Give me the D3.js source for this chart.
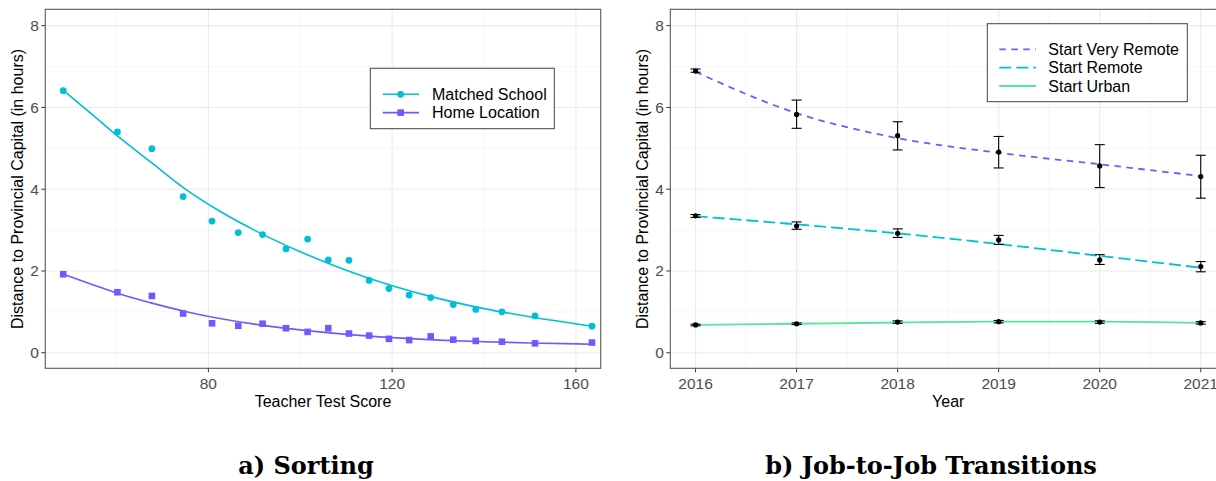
<!DOCTYPE html>
<html>
<head>
<meta charset="utf-8">
<script src="https://cdn.jsdelivr.net/npm/d3@7"></script>
<style>
  body { margin: 0; background: #fff; }
  svg { display: block; font-family: "Liberation Sans", Arial, sans-serif; }
  .grid-major { stroke: #ebebeb; stroke-width: 1.1; }
  .grid-minor { stroke: #f4f4f4; stroke-width: 0.7; }
  .tick-label { fill: #4d4d4d; font-size: 15.5px; }
  .axis-title { fill: #000; font-size: 16px; }
  .legend-text { fill: #000; font-size: 16px; }
  .caption { font-family: "DejaVu Serif", serif; font-weight: bold; font-size: 24px; fill: #000; }
</style>
</head>
<body>
<div id="chart"></div>
<script>
// ---- panel a) sorting ----
var scores = [48.4, 60.2, 67.7, 74.5, 80.8, 86.5, 91.8, 96.9, 101.6, 106.1, 110.6, 115.0, 119.3, 123.7, 128.4, 133.3, 138.2, 143.9, 151.1, 163.5];
var matchedSchool = [6.41, 5.40, 4.99, 3.82, 3.22, 2.94, 2.89, 2.54, 2.78, 2.27, 2.26, 1.77, 1.57, 1.41, 1.35, 1.18, 1.06, 1.00, 0.90, 0.65];
var homeLocation = [1.92, 1.48, 1.39, 0.96, 0.72, 0.66, 0.71, 0.60, 0.51, 0.60, 0.47, 0.42, 0.34, 0.31, 0.40, 0.32, 0.29, 0.27, 0.23, 0.25];
// smoothed fits
var fitScores = [48.4, 55, 60, 67.5, 75, 82.5, 90, 100, 110, 120, 130, 140, 150, 163.5];
var matchedFit = [6.42, 5.80, 5.32, 4.66, 4.00, 3.46, 3.00, 2.47, 2.02, 1.64, 1.33, 1.08, 0.88, 0.65];
var homeFit = [1.92, 1.66, 1.46, 1.22, 1.01, 0.84, 0.70, 0.56, 0.45, 0.37, 0.31, 0.27, 0.24, 0.21];
var scoreTicks = [80, 120, 160];
var scoreMinor = [60, 100, 140];

// ---- panel b) job-to-job ----
var years = [2016, 2017, 2018, 2019, 2020, 2021];
var veryRemoteMean = [6.89, 5.83, 5.31, 4.91, 4.57, 4.31];
var veryRemoteLo = [6.86, 5.49, 4.96, 4.52, 4.04, 3.78];
var veryRemoteHi = [6.94, 6.18, 5.65, 5.29, 5.09, 4.83];
var veryRemoteFit = [6.87, 5.86, 5.25, 4.89, 4.61, 4.32];
var remoteMean = [3.35, 3.10, 2.92, 2.76, 2.27, 2.11];
var remoteLo = [3.31, 3.02, 2.82, 2.65, 2.16, 1.98];
var remoteHi = [3.38, 3.20, 3.03, 2.87, 2.40, 2.23];
var remoteFit = [3.34, 3.14, 2.92, 2.66, 2.37, 2.08];
var urbanMean = [0.68, 0.71, 0.75, 0.76, 0.75, 0.73];
var urbanLo = [0.66, 0.69, 0.72, 0.73, 0.72, 0.70];
var urbanHi = [0.70, 0.73, 0.78, 0.79, 0.78, 0.76];
var urbanFit = [0.68, 0.71, 0.74, 0.76, 0.76, 0.73];
var yearMinor = [2016.5, 2017.5, 2018.5, 2019.5, 2020.5, 2021.5];

var yTicks = [0, 2, 4, 6, 8];
var yMinor = [1, 3, 5, 7];

var cyan = "#00bfd6", purple = "#6c5cff", green = "#55e69a";

var svg = d3.select("#chart").append("svg")
    .attr("width", 1216)
    .attr("height", 481);

var plotTop = 9.3, plotBottom = 368.3;

var y = d3.scaleLinear().domain([-0.38, 8.4]).range([plotBottom, plotTop]);

// draws the grid, frame, ticks for one panel
function drawFrame(g, x, majorX, minorX, left, right, tickFmt) {
    g.selectAll(".ymin").data(yMinor).enter().append("line")
        .attr("class", "grid-minor")
        .attr("x1", left).attr("x2", right)
        .attr("y1", function(d){ return y(d); }).attr("y2", function(d){ return y(d); });
    g.selectAll(".xmin").data(minorX).enter().append("line")
        .attr("class", "grid-minor")
        .attr("x1", function(d){ return x(d); }).attr("x2", function(d){ return x(d); })
        .attr("y1", plotTop).attr("y2", plotBottom);
    g.selectAll(".ymaj").data(yTicks).enter().append("line")
        .attr("class", "grid-major")
        .attr("x1", left).attr("x2", right)
        .attr("y1", function(d){ return y(d); }).attr("y2", function(d){ return y(d); });
    g.selectAll(".xmaj").data(majorX).enter().append("line")
        .attr("class", "grid-major")
        .attr("x1", function(d){ return x(d); }).attr("x2", function(d){ return x(d); })
        .attr("y1", plotTop).attr("y2", plotBottom);

    // y ticks
    g.selectAll(".ytick").data(yTicks).enter().append("line")
        .attr("x1", left - 4).attr("x2", left)
        .attr("y1", function(d){ return y(d); }).attr("y2", function(d){ return y(d); })
        .attr("stroke", "#333");
    g.selectAll(".ylab").data(yTicks).enter().append("text")
        .attr("class", "tick-label")
        .attr("x", left - 6.5)
        .attr("y", function(d){ return y(d) + 5.5; })
        .attr("text-anchor", "end")
        .text(function(d){ return d; });

    // x ticks
    g.selectAll(".xtick").data(majorX).enter().append("line")
        .attr("x1", function(d){ return x(d); }).attr("x2", function(d){ return x(d); })
        .attr("y1", plotBottom).attr("y2", plotBottom + 4)
        .attr("stroke", "#333");
    g.selectAll(".xlab").data(majorX).enter().append("text")
        .attr("class", "tick-label")
        .attr("x", function(d){ return x(d); })
        .attr("y", 388.5)
        .attr("text-anchor", "middle")
        .text(tickFmt);
}

function drawBorder(g, left, right) {
    g.append("rect")
        .attr("x", left).attr("y", plotTop)
        .attr("width", right - left).attr("height", plotBottom - plotTop)
        .attr("fill", "none")
        .attr("stroke", "#5a5a5a")
        .attr("stroke-width", 1.1);
}

// ================= panel a =================
var xa = d3.scaleLinear().domain([44.5, 165.4]).range([45.3, 600.7]);
var ga = svg.append("g");
drawFrame(ga, xa, scoreTicks, scoreMinor, 45.3, 600.7, function(d){ return d; });

var fitLineA = d3.line()
    .x(function(d){ return xa(d[0]); })
    .y(function(d){ return y(d[1]); })
    .curve(d3.curveMonotoneX);

ga.selectAll(".dotM").data(d3.zip(scores, matchedSchool)).enter().append("circle")
    .attr("cx", function(d){ return xa(d[0]); })
    .attr("cy", function(d){ return y(d[1]); })
    .attr("r", 3.4)
    .attr("fill", cyan);

ga.selectAll(".sqH").data(d3.zip(scores, homeLocation)).enter().append("rect")
    .attr("x", function(d){ return xa(d[0]) - 3.3; })
    .attr("y", function(d){ return y(d[1]) - 3.3; })
    .attr("width", 6.6).attr("height", 6.6)
    .attr("fill", purple);

ga.append("path")
    .datum(d3.zip(fitScores, matchedFit))
    .attr("d", fitLineA)
    .attr("fill", "none").attr("stroke", cyan).attr("stroke-width", 1.6);

ga.append("path")
    .datum(d3.zip(fitScores, homeFit))
    .attr("d", fitLineA)
    .attr("fill", "none").attr("stroke", purple).attr("stroke-width", 1.6);

drawBorder(ga, 45.3, 600.7);

// legend a
var lga = ga.append("g").attr("transform", "translate(370.3,68.3)");
lga.append("rect").attr("width", 184).attr("height", 60.4)
    .attr("fill", "#fff").attr("stroke", "#444").attr("stroke-width", 1);
var legA = [{name: "Matched School", color: cyan, shape: "circle"},
            {name: "Home Location", color: purple, shape: "square"}];
legA.forEach(function(d, i){
    var yy = 26 + i * 18.3;
    lga.append("line").attr("x1", 12.4).attr("x2", 48.7)
        .attr("y1", yy).attr("y2", yy)
        .attr("stroke", d.color).attr("stroke-width", 1.6);
    if (d.shape == "circle") {
        lga.append("circle").attr("cx", 30.4).attr("cy", yy).attr("r", 3.4).attr("fill", d.color);
    } else {
        lga.append("rect").attr("x", 27.1).attr("y", yy - 3.3).attr("width", 6.6).attr("height", 6.6).attr("fill", d.color);
    }
    lga.append("text").attr("class", "legend-text")
        .attr("x", 61.7).attr("y", yy + 5.6).text(d.name);
});

ga.append("text").attr("class", "axis-title")
    .attr("x", 323).attr("y", 407)
    .attr("text-anchor", "middle")
    .text("Teacher Test Score");
ga.append("text").attr("class", "axis-title")
    .attr("transform", "translate(23,189) rotate(-90)")
    .attr("text-anchor", "middle")
    .text("Distance to Provincial Capital (in hours)");

// ================= panel b =================
var xb = d3.scaleLinear().domain([2015.75, 2021.25]).range([670.3, 1226]);
var gb = svg.append("g");
drawFrame(gb, xb, years, yearMinor, 670.3, 1226, function(d){ return d; });

var series = [
    {name: "Start Very Remote", color: purple, dash: "6.5,5.5", fit: veryRemoteFit, mean: veryRemoteMean, lo: veryRemoteLo, hi: veryRemoteHi},
    {name: "Start Remote", color: cyan, dash: "12,5", fit: remoteFit, mean: remoteMean, lo: remoteLo, hi: remoteHi},
    {name: "Start Urban", color: green, dash: null, fit: urbanFit, mean: urbanMean, lo: urbanLo, hi: urbanHi}
];

var fitLineB = d3.line()
    .x(function(d){ return xb(d[0]); })
    .y(function(d){ return y(d[1]); })
    .curve(d3.curveMonotoneX);

series.forEach(function(s){
    gb.append("path")
        .datum(d3.zip(years, s.fit))
        .attr("d", fitLineB)
        .attr("fill", "none")
        .attr("stroke", s.color)
        .attr("stroke-width", 1.8)
        .attr("stroke-dasharray", s.dash);
});

series.forEach(function(s){
    var rows = years.map(function(yr, i){ return {year: yr, mean: s.mean[i], lo: s.lo[i], hi: s.hi[i]}; });
    var eb = gb.append("g").attr("stroke", "#000").attr("stroke-width", 1.1);
    eb.selectAll(".v").data(rows).enter().append("line")
        .attr("x1", function(d){ return xb(d.year); }).attr("x2", function(d){ return xb(d.year); })
        .attr("y1", function(d){ return y(d.lo); }).attr("y2", function(d){ return y(d.hi); });
    eb.selectAll(".capLo").data(rows).enter().append("line")
        .attr("x1", function(d){ return xb(d.year) - 5; }).attr("x2", function(d){ return xb(d.year) + 5; })
        .attr("y1", function(d){ return y(d.lo); }).attr("y2", function(d){ return y(d.lo); });
    eb.selectAll(".capHi").data(rows).enter().append("line")
        .attr("x1", function(d){ return xb(d.year) - 5; }).attr("x2", function(d){ return xb(d.year) + 5; })
        .attr("y1", function(d){ return y(d.hi); }).attr("y2", function(d){ return y(d.hi); });
    gb.selectAll(null).data(rows).enter().append("circle")
        .attr("cx", function(d){ return xb(d.year); })
        .attr("cy", function(d){ return y(d.mean); })
        .attr("r", 2.6)
        .attr("fill", "#000");
});

drawBorder(gb, 670.3, 1226);

// legend b
var lgb = gb.append("g").attr("transform", "translate(987.3,23.7)");
lgb.append("rect").attr("width", 200).attr("height", 78)
    .attr("fill", "#fff").attr("stroke", "#444").attr("stroke-width", 1);
series.forEach(function(s, i){
    var yy = 25.6 + i * 18.35;
    lgb.append("line").attr("x1", 12).attr("x2", 48.7)
        .attr("y1", yy).attr("y2", yy)
        .attr("stroke", s.color).attr("stroke-width", 1.8)
        .attr("stroke-dasharray", s.dash);
    lgb.append("text").attr("class", "legend-text")
        .attr("x", 61).attr("y", yy + 5.6).text(s.name);
});

gb.append("text").attr("class", "axis-title")
    .attr("x", 948.2).attr("y", 407)
    .attr("text-anchor", "middle")
    .text("Year");
gb.append("text").attr("class", "axis-title")
    .attr("transform", "translate(648,189) rotate(-90)")
    .attr("text-anchor", "middle")
    .text("Distance to Provincial Capital (in hours)");

// captions
svg.append("text").attr("class", "caption")
    .attr("x", 306).attr("y", 474)
    .attr("text-anchor", "middle")
    .text("a) Sorting");
svg.append("text").attr("class", "caption")
    .attr("x", 931).attr("y", 474)
    .attr("text-anchor", "middle")
    .text("b) Job-to-Job Transitions");
</script>
</body>
</html>
